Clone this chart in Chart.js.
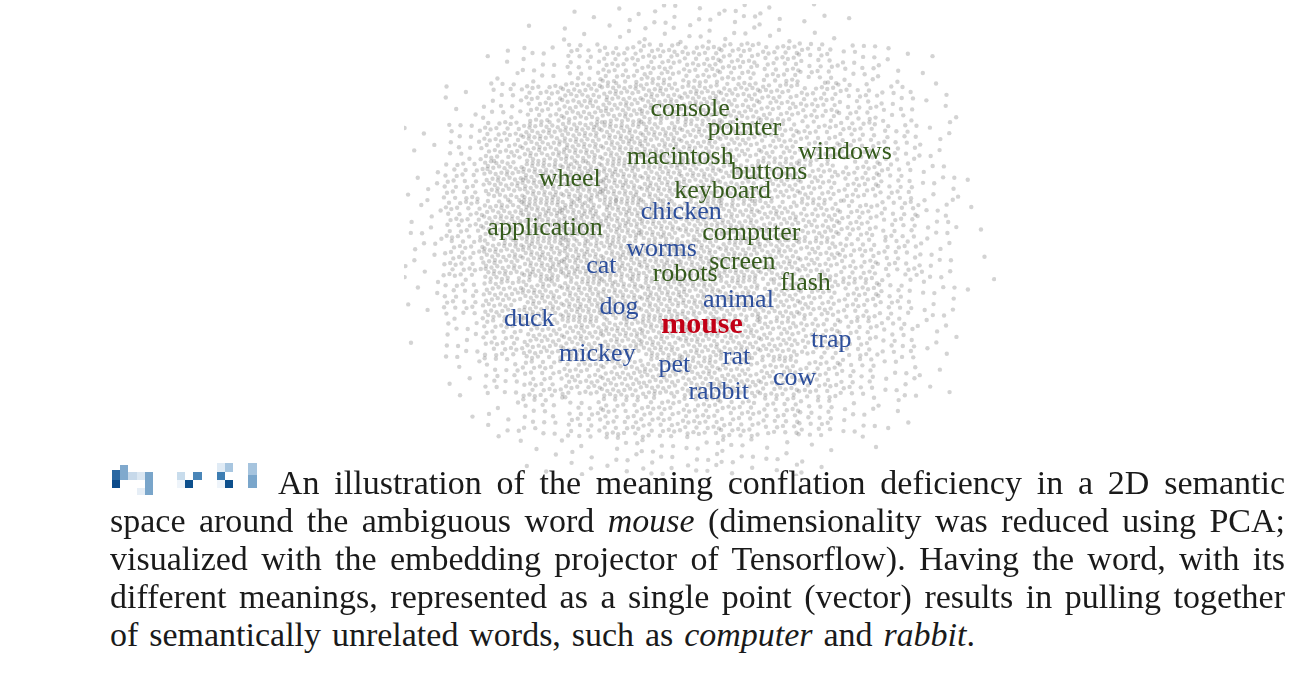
<!DOCTYPE html>
<html>
<head>
<meta charset="utf-8">
<script src="https://cdn.jsdelivr.net/npm/chart.js@4.4.1/dist/chart.umd.min.js"></script>
<style>
  html, body { margin: 0; padding: 0; background: #ffffff; }
  body { width: 1308px; height: 680px; position: relative; overflow: hidden; }
  #plot { position: absolute; left: 400px; top: 0px; }
  .cap { position: absolute; font-family: "Liberation Serif", "DejaVu Serif", serif; font-size: 34px; line-height: 38px; color: #1a1a1a; white-space: nowrap; }
  .mos { position: absolute; }
</style>
</head>
<body>
<canvas id="plot" width="600" height="480"></canvas>
<div id="mosaic"></div>
<div class="cap fit" data-w="1007" style="left:278px; top:464px;">An illustration of the meaning conflation deficiency in a 2D semantic</div>
<div class="cap fit" data-w="1175" style="left:110px; top:502px;">space around the ambiguous word <i>mouse</i> (dimensionality was reduced using PCA;</div>
<div class="cap fit" data-w="1175" style="left:110px; top:540px;">visualized with the embedding projector of Tensorflow). Having the word, with its</div>
<div class="cap fit" data-w="1175" style="left:110px; top:578px;">different meanings, represented as a single point (vector) results in pulling together</div>
<div class="cap fit" data-w="865" style="left:110px; top:616px;">of semantically unrelated words, such as <i>computer</i> and <i>rabbit</i>.</div>
<script>
// ---- Words in the 2D PCA space (PC1, PC2) ----
const words = ["console","pointer","macintosh","windows","buttons","wheel","keyboard","chicken","application","computer","worms","cat","screen","robots","flash","animal","dog","duck","mouse","trap","mickey","pet","rat","cow","rabbit"];
const wordPC1 = [-0.10, 0.45, -0.20, 1.47, 0.70, -1.32, 0.23, -0.19, -1.57, 0.52, -0.39, -1.00, 0.43, -0.15, 1.07, 0.39, -0.82, -1.73, 0.02, 1.33, -1.04, -0.26, 0.37, 0.96, 0.19];
const wordPC2 = [1.43, 1.24, 0.94, 0.99, 0.79, 0.72, 0.60, 0.38, 0.22, 0.17, 0.01, -0.17, -0.13, -0.25, -0.34, -0.51, -0.58, -0.71, -0.77, -0.92, -1.06, -1.17, -1.09, -1.31, -1.45];
const wordSense = ["c","c","c","c","c","c","c","a","c","c","a","a","c","c","c","a","a","a","t","a","a","a","a","a","a"];

// ---- Background cloud of neighbouring words: estimated point density per cell ----
const cloudColPC1 = [-2.8,-2.4,-2.0,-1.6,-1.2,-0.8,-0.4,0.0,0.4,0.8,1.2,1.6,2.0,2.4,2.8];
const cloudRowPC2 = [2.3,1.9,1.5,1.1,0.7,0.3,-0.1,-0.5,-0.9,-1.3,-1.7,-2.1];
const cloudDensity = [
  [0,0,0,0.01,0.04,0.06,0.08,0.08,0.08,0.06,0.04,0.01,0,0,0],
  [0,0,0.04,0.1,0.18,0.28,0.33,0.33,0.32,0.28,0.22,0.13,0.06,0.02,0],
  [0,0.04,0.15,0.3,0.42,0.47,0.47,0.45,0.4,0.35,0.3,0.22,0.13,0.04,0],
  [0.03,0.13,0.33,0.48,0.56,0.56,0.52,0.46,0.4,0.35,0.3,0.26,0.18,0.07,0],
  [0.05,0.24,0.46,0.58,0.62,0.6,0.56,0.5,0.45,0.4,0.34,0.28,0.2,0.09,0.02],
  [0.07,0.28,0.5,0.62,0.65,0.6,0.56,0.52,0.5,0.45,0.37,0.3,0.21,0.11,0.02],
  [0.07,0.28,0.5,0.6,0.62,0.6,0.56,0.55,0.5,0.45,0.37,0.3,0.21,0.11,0.02],
  [0.04,0.2,0.4,0.5,0.55,0.55,0.55,0.52,0.46,0.4,0.34,0.28,0.19,0.09,0.01],
  [0.01,0.11,0.28,0.4,0.46,0.5,0.5,0.5,0.45,0.4,0.32,0.24,0.16,0.07,0],
  [0,0.04,0.16,0.28,0.35,0.4,0.44,0.45,0.4,0.35,0.28,0.19,0.1,0.03,0],
  [0,0.01,0.07,0.14,0.2,0.26,0.3,0.3,0.28,0.24,0.18,0.1,0.04,0,0],
  [0,0,0.01,0.03,0.06,0.08,0.1,0.1,0.09,0.07,0.04,0.01,0,0,0]
];

// ---- Obscured figure label (pixel mosaic, decoration) ----
const mosaicCells = [
  [112,470,8,10,"#2a68a2"],[112,480,8,8,"#0b4a8a"],[120,465,8,15,"#80a9cd"],[128,472,9,8,"#c7d9ea"],
  [137,472,8,8,"#dbe7f2"],[145,472,8,23,"#79a5ca"],[137,488,8,7,"#e6eef6"],
  [177,472,8,8,"#c8dcec"],[185,480,8,8,"#0c4f8c"],[193,472,9,8,"#4a86b8"],[177,480,8,8,"#eef4fa"],
  [217,472,8,8,"#3d7db2"],[225,463,8,9,"#a8c6e0"],[225,480,8,8,"#0c4f8c"],[217,463,8,9,"#e0ebf5"],[217,480,8,8,"#eef4fa"],
  [248,463,9,12,"#a6c4de"],[248,475,9,13,"#7aa6cb"]
];
const mos = document.getElementById('mosaic');
mosaicCells.forEach(c => {
  const d = document.createElement('div');
  d.className = 'mos';
  d.style.left = c[0] + 'px'; d.style.top = c[1] + 'px';
  d.style.width = c[2] + 'px'; d.style.height = c[3] + 'px';
  d.style.background = c[4];
  mos.appendChild(d);
});

// fit caption lines to the justified column width
document.querySelectorAll('.fit').forEach(el => {
  const target = +el.dataset.w;
  const natural = el.getBoundingClientRect().width;
  const spaces = (el.textContent.match(/ /g) || []).length;
  el.style.wordSpacing = ((target - natural) / spaces) + 'px';
});

// spread each cell's estimated density into dots (low-discrepancy placement inside the cell)
const A1 = 0.7548776662, A2 = 0.5698402910;
const cloudPts = [];
cloudDensity.forEach((row, r) => {
  row.forEach((dens, c) => {
    const n = Math.round(dens * 120);
    const start = (r * 15 + c) * 131;
    for (let k = start; k < start + n; k++) {
      const u = (0.5 + k * A1) % 1, v = (0.5 + k * A2) % 1;
      cloudPts.push({ x: cloudColPC1[c] + (u - 0.5) * 0.4, y: cloudRowPC2[r] + (v - 0.5) * 0.4 });
    }
  });
});

const senseColor = { c: "#355b1c", a: "#2d4f9c", t: "#c20016" };

const labelPlugin = {
  id: 'wordLabels',
  afterDatasetsDraw(chart) {
    const ctx = chart.ctx;
    const meta = chart.getDatasetMeta(1);
    ctx.save();
    ctx.textAlign = 'center';
    ctx.textBaseline = 'middle';
    meta.data.forEach((pt, i) => {
      const s = wordSense[i];
      ctx.font = s === 't' ? 'bold 30px "Liberation Serif", serif' : '26px "Liberation Serif", serif';
      ctx.fillStyle = senseColor[s];
      ctx.fillText(words[i], pt.x, pt.y);
    });
    ctx.restore();
  }
};

new Chart(document.getElementById('plot'), {
  type: 'scatter',
  data: {
    datasets: [
      {
        label: 'neighbours',
        data: cloudPts,
        pointRadius: 2.2,
        pointBorderWidth: 0,
        backgroundColor: 'rgba(110,110,110,0.3)',
        borderColor: 'rgba(0,0,0,0)'
      },
      {
        label: 'words',
        data: words.map((w, i) => ({ x: wordPC1[i], y: wordPC2[i] })),
        pointRadius: 0,
        backgroundColor: 'rgba(0,0,0,0)'
      }
    ]
  },
  options: {
    responsive: false,
    animation: false,
    devicePixelRatio: 1,
    layout: { padding: 0 },
    plugins: { legend: { display: false }, tooltip: { enabled: false } },
    scales: {
      x: { type: 'linear', min: -3, max: 3, display: false },
      y: { type: 'linear', min: -2.3, max: 2.5, display: false }
    }
  },
  plugins: [labelPlugin]
});
</script>
</body>
</html>
